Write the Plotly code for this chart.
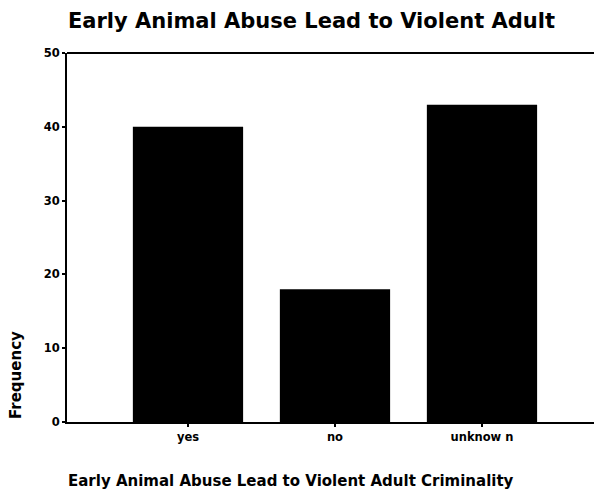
import plotly.graph_objects as go

categories = ["yes", "no", "unknow n"]
frequencies = [40, 18, 43]
y_ticks = [0, 10, 20, 30, 40, 50]

title_text = "Early Animal Abuse Lead to Violent Adult"
x_title_text = "Early Animal Abuse Lead to Violent Adult Criminality"
y_title_text = "Frequency"

FONT = "DejaVu Sans, Liberation Sans, Arial, sans-serif"
W, H = 594, 491
L, R, T, B = 67, 0, 53, 69
PW, PH = W - L - R, H - T - B

fig = go.Figure()
fig.add_trace(go.Bar(
    x=list(range(len(categories))),
    y=frequencies,
    width=0.75,
    marker=dict(color="black", line=dict(width=0)),
))

fig.update_layout(
    width=W, height=H, autosize=False,
    margin=dict(l=L, r=R, t=T, b=B),
    paper_bgcolor="white", plot_bgcolor="white",
    showlegend=False,
    font=dict(family=FONT, color="black"),
    title=dict(text="<b>" + title_text + "</b>", x=68 / W, xanchor="left", xref="container",
               y=1 - 21 / H, yanchor="middle", yref="container",
               font=dict(size=21, color="black", family=FONT)),
)

fig.update_xaxes(
    range=[-0.823, 2.762],
    tickmode="array",
    tickvals=list(range(len(categories))),
    ticktext=["<b>" + c + "</b>" for c in categories],
    ticks="outside", ticklen=3, tickwidth=2, tickcolor="black",
    showline=True, linecolor="black", linewidth=2,
    mirror=False, showgrid=False, zeroline=False, automargin=False,
    tickfont=dict(size=11.5, color="black", family=FONT),
)
fig.update_yaxes(
    range=[0, 50],
    tickmode="array", tickvals=y_ticks,
    ticktext=["<b>%d</b>" % v for v in y_ticks],
    ticks="outside", ticklen=3, tickwidth=2, tickcolor="black",
    showline=True, linecolor="black", linewidth=2,
    showgrid=False, zeroline=False, automargin=False,
    tickfont=dict(size=11.5, color="black", family=FONT),
)

# top frame line
fig.add_shape(type="line", xref="paper", yref="paper", x0=0, x1=1, y0=1, y1=1,
              line=dict(color="black", width=2))

fig.add_annotation(text="<b>" + y_title_text + "</b>", textangle=-90,
                   xref="paper", yref="paper", x=(16 - L) / PW, y=(H - B - 375) / PH,
                   xanchor="center", yanchor="middle", showarrow=False,
                   font=dict(size=15, color="black", family=FONT))
fig.add_annotation(text="<b>" + x_title_text + "</b>",
                   xref="paper", yref="paper", x=(66 - L) / PW, y=-(481 - (H - B)) / PH,
                   xanchor="left", yanchor="middle", showarrow=False,
                   font=dict(size=15, color="black", family=FONT))

fig.write_html("out.html", config={"responsive": False, "displayModeBar": False},
               post_script="document.body.style.margin='0';")
